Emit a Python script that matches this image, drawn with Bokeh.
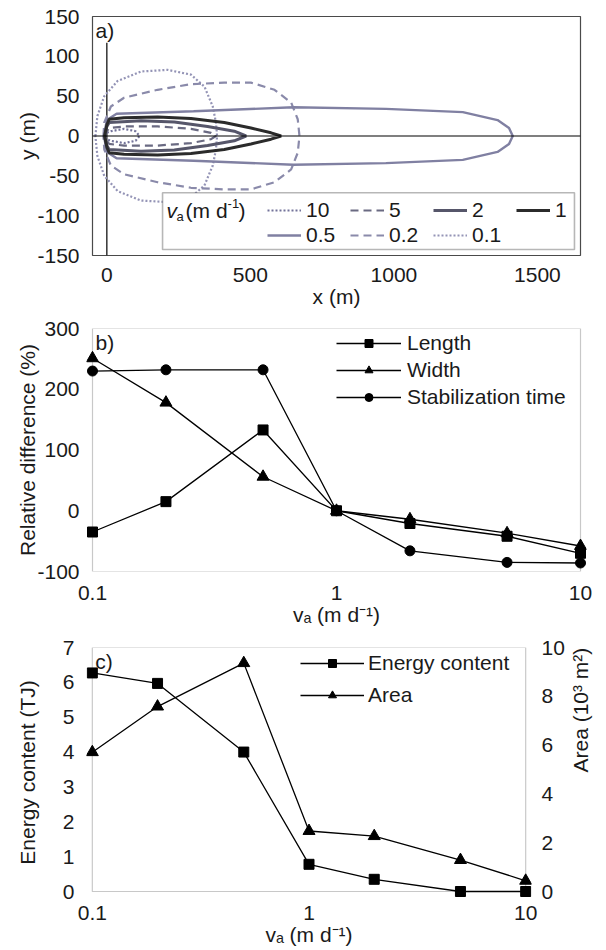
import math
from bokeh.plotting import figure
from bokeh.models import (Range1d, LinearAxis, FixedTicker, Legend, LegendItem,
                          Label, Span, BoxAnnotation)
from bokeh.layouts import column
from bokeh.embed import file_html
from bokeh.resources import INLINE

FONT = "Liberation Sans"
TXT = "#1a1a1a"
FS = "21px"
VA_LABEL = "vₐ (m d⁻¹)"

# ---------------- Panel a: plume outlines (upper half, mirrored about y=0) --------
va_a = ["10", "5", "2", "1", "0.5", "0.2", "0.1"]
x_10 = [-8, 0, 14, 60, 100, 114]
y_10 = [0, 4, 6, 9, 6, 0]
x_5 = [-8, 0, 8, 60, 177, 293, 363, 380]
y_5 = [0, 6, 10, 12, 12, 9, 4, 0]
x_2 = [-8, 0, 8, 119, 235, 351, 444, 485]
y_2 = [0, 12, 17, 19, 17.5, 12, 6, 0]
x_1 = [-8, 0, 8, 60, 177, 293, 409, 502, 572, 607]
y_1 = [0, 14, 21, 23, 24, 22, 17, 10, 4, 0]
x_05 = [-10, 0, 34, 302, 650, 972, 1240, 1361, 1401, 1414]
y_05 = [0, 20, 28, 31, 36, 34, 30, 20, 10, 0]
x_02 = [-12, -9, 14, 60, 177, 293, 409, 502, 584, 642, 665, 671]
y_02 = [0, 17, 37, 48, 58, 65, 67, 67, 58, 42, 21, 0]
x_01 = [-40, -33, -9, 37, 119, 212, 293, 340, 369, 380, 384]
y_01 = [0, 25, 50, 69, 81, 83, 77, 62, 37, 17, 0]

axis_vx = [0, 0]
axis_vy = [-150, 117]

# ---------------- Panel b ----------------
va = [0.1, 0.2, 0.5, 1, 2, 5, 10]
length = [-35, 15, 133, 0, -21, -42, -70]
width_ = [251, 178, 56, 0, -14, -37, -58]
stab = [230, 232, 232, 0, -66, -85, -86]

# ---------------- Panel c ----------------
energy = [6.27, 5.97, 4.0, 0.78, 0.35, 0.0, 0.0]
area = [5.71, 7.58, 9.36, 2.48, 2.27, 1.29, 0.44]

va_ticks = [0.1, 1, 10]
va_tick_text = {0.1: "0.1", 1: "1", 10: "10"}


def closed(xu, yu):
    xs = list(xu) + list(reversed(xu))
    ys = list(yu) + [-v for v in reversed(yu)]
    return xs, ys


def style_axes(p):
    p.grid.visible = False
    p.background_fill_color = "white"
    p.border_fill_color = "white"
    for ax in p.axis:
        ax.axis_line_color = None
        ax.major_tick_line_color = None
        ax.minor_tick_line_color = None
        ax.major_label_text_font = FONT
        ax.major_label_text_font_size = FS
        ax.major_label_text_color = TXT
        ax.axis_label_text_font = FONT
        ax.axis_label_text_font_size = FS
        ax.axis_label_text_font_style = "normal"
        ax.axis_label_text_color = TXT


def mkfig(**kw):
    p = figure(output_backend="svg", toolbar_location=None, **kw)
    p.frame_align = False
    return p


def frame_box(p, l, r, b, t, **kw):
    bx = BoxAnnotation(left=l, right=r, bottom=b, top=t, fill_alpha=0,
                       line_color="#4a4a4a", line_width=1.2, level="underlay", **kw)
    p.add_layout(bx)


# ======================= Panel a =======================
pa = mkfig(width=606, height=310, x_range=Range1d(-50, 1650), y_range=Range1d(-150, 150),
           min_border_left=92, min_border_right=26, min_border_top=16, min_border_bottom=54)
style_axes(pa)
pa.outline_line_color = "#4a4a4a"
pa.outline_line_width = 1.2
pa.xaxis.ticker = FixedTicker(ticks=[0, 500, 1000, 1500])
pa.yaxis.ticker = FixedTicker(ticks=[-150, -100, -50, 0, 50, 100, 150])
pa.yaxis.major_label_overrides = {-150: "-150", -100: "-100", -50: "-50"}
pa.xaxis.major_label_standoff = 6
pa.xaxis.axis_label = "x (m)"
pa.xaxis.axis_label_standoff = 0
pa.yaxis.major_label_standoff = 7
pa.yaxis.axis_label = "y (m)"
pa.yaxis.axis_label_standoff = -5

pa.add_layout(Span(location=0, dimension="width", line_color="black", line_width=1.2))
pa.line(axis_vx, axis_vy, line_color="black", line_width=1.2)

styles = [
    ("#73739a", "dotted", 2.2),
    ("#6a6a82", "dashed", 2.2),
    ("#56566a", "solid", 3.0),
    ("#2b2b2b", "solid", 3.0),
    ("#8080a2", "solid", 2.4),
    ("#8a8aaa", "dashed", 2.2),
    ("#9494b6", "dotted", 2.2),
]
dash_map = {"dotted": "2 2", "dashed": "8 5", "solid": "solid"}
shapes = [(x_10, y_10), (x_5, y_5), (x_2, y_2), (x_1, y_1), (x_05, y_05), (x_02, y_02), (x_01, y_01)]
renders = {}
for i in [6, 5, 4, 0, 1, 2, 3]:
    xs, ys = closed(*shapes[i])
    col, d, lw = styles[i]
    renders[i] = pa.line(xs, ys, line_color=col, line_width=lw, line_dash=dash_map[d])

box = BoxAnnotation(left=194, right=1629, top=-71.25, bottom=-142.5,
                    fill_color="white", fill_alpha=1.0, line_color="#111111", line_width=1.6)
pa.add_layout(box)

leg_a = Legend(items=[LegendItem(label=va_a[i], renderers=[renders[i]]) for i in range(7)],
               orientation="horizontal", ncols=4, location=(175, 8),
               glyph_width=34, glyph_height=20, label_height=20, label_width=43,
               label_standoff=5, spacing=1, padding=0, margin=0,
               border_line_color=None, background_fill_alpha=0,
               label_text_font=FONT, label_text_font_size=FS, label_text_color=TXT)
pa.add_layout(leg_a)

ta_x, ta_y = 208, -93.4
for t, dx, dy, fs, st in [("v", 0, 0, FS, "italic"), ("a", 10, -6, "13px", "normal"),
                          ("(m d", 19, 0, FS, "normal"), ("-1", 61, 7, "13px", "normal"),
                          (")", 72, 0, FS, "normal")]:
    pa.add_layout(Label(x=ta_x, y=ta_y, x_offset=dx, y_offset=dy, text=t, text_font=FONT,
                        text_font_size=fs, text_font_style=st, text_color=TXT,
                        text_align="left", text_baseline="middle"))

pa.add_layout(Label(x=-50, y=150, x_offset=3, y_offset=-2, text="a)", text_font=FONT,
                    text_font_size=FS, text_color=TXT, text_baseline="top"))

# ======================= Panel b =======================
ext_b = 10 ** (6 / 244)   # 6 px of room so edge markers are not cut
pb = mkfig(width=606, height=318, x_axis_type="log",
           x_range=Range1d(0.1 / ext_b, 10 * ext_b), y_range=Range1d(-100, 300),
           min_border_left=86, min_border_right=20, min_border_top=18, min_border_bottom=56)
style_axes(pb)
pb.outline_line_color = None
frame_box(pb, 0.1, 10, -100, 300)
pb.xaxis.ticker = FixedTicker(ticks=va_ticks)
pb.xaxis.major_label_overrides = va_tick_text
pb.yaxis.ticker = FixedTicker(ticks=[-100, 0, 100, 200, 300])
pb.yaxis.major_label_overrides = {-100: "-100"}
pb.xaxis.major_label_standoff = 8
pb.xaxis.axis_label = VA_LABEL
pb.xaxis.axis_label_standoff = 0
pb.yaxis.major_label_standoff = 1
pb.yaxis.axis_label = "Relative difference (%)"
pb.yaxis.axis_label_standoff = -5

items_b = []
for name, vals, mk, sz in [("Length", length, "square", 10),
                           ("Width", width_, "triangle", 12),
                           ("Stabilization time", stab, "circle", 10)]:
    lr = pb.line(va, vals, line_color="black", line_width=1.3)
    sr = pb.scatter(va, vals, marker=mk, size=sz, fill_color="black", line_color="black")
    items_b.append(LegendItem(label=name, renderers=[lr, sr]))
leg_b = Legend(items=items_b, location=(250, 162), glyph_width=65, glyph_height=20,
               label_height=20, label_standoff=6, spacing=3, padding=0, margin=0,
               border_line_color=None, background_fill_alpha=0,
               label_text_font=FONT, label_text_font_size=FS, label_text_color=TXT)
pb.add_layout(leg_b)
pb.add_layout(Label(x=0.1, y=300, x_offset=3, y_offset=-2, text="b)", text_font=FONT,
                    text_font_size=FS, text_color=TXT, text_baseline="top"))

# ======================= Panel c =======================
ext_c = 10 ** (6 / 223.5)
pc = mkfig(width=606, height=322, x_axis_type="log",
           x_range=Range1d(0.1 / ext_c, 10 * ext_c), y_range=Range1d(-6 * 7 / 244, 7),
           min_border_left=86, min_border_right=73, min_border_top=19, min_border_bottom=53)
pc.extra_y_ranges = {"area": Range1d(-6 * 10 / 244, 10)}
ax_r = LinearAxis(y_range_name="area", axis_label="Area (10³ m²)")
pc.add_layout(ax_r, "right")
style_axes(pc)
pc.outline_line_color = None
frame_box(pc, 0.1, 10, 0, 7)
if "axis_label_orientation" in ax_r.properties():
    ax_r.axis_label_orientation = math.pi / 2
pc.xaxis.ticker = FixedTicker(ticks=va_ticks)
pc.xaxis.major_label_overrides = va_tick_text
pc.xaxis.major_label_standoff = 2
pc.xaxis.axis_label = VA_LABEL
pc.xaxis.axis_label_standoff = 0
pc.yaxis[0].ticker = FixedTicker(ticks=[0, 1, 2, 3, 4, 5, 6, 7])
ax_r.ticker = FixedTicker(ticks=[0, 2, 4, 6, 8, 10])
pc.yaxis[0].major_label_standoff = 6
ax_r.major_label_standoff = 4
pc.yaxis[0].axis_label = "Energy content (TJ)"
pc.yaxis[0].axis_label_standoff = 21
ax_r.axis_label_standoff = 13

items_c = []
lr = pc.line(va, energy, line_color="black", line_width=1.3)
sr = pc.scatter(va, energy, marker="square", size=10, fill_color="black", line_color="black")
items_c.append(LegendItem(label="Energy content", renderers=[lr, sr]))
lr2 = pc.line(va, area, line_color="black", line_width=1.3, y_range_name="area")
sr2 = pc.scatter(va, area, marker="triangle", size=12, fill_color="black", line_color="black",
                 y_range_name="area")
items_c.append(LegendItem(label="Area", renderers=[lr2, sr2]))
leg_c = Legend(items=items_c, location=(214, 190), glyph_width=64, glyph_height=20,
               label_height=20, label_standoff=4, spacing=8, padding=0, margin=0,
               border_line_color=None, background_fill_alpha=0,
               label_text_font=FONT, label_text_font_size=FS, label_text_color=TXT)
pc.add_layout(leg_c)
pc.add_layout(Label(x=0.1, y=7, x_offset=3, y_offset=-2, text="c)", text_font=FONT,
                    text_font_size=FS, text_color=TXT, text_baseline="top"))

layout = column(pa, pb, pc)
open("out.html", "w").write(file_html(layout, INLINE))
